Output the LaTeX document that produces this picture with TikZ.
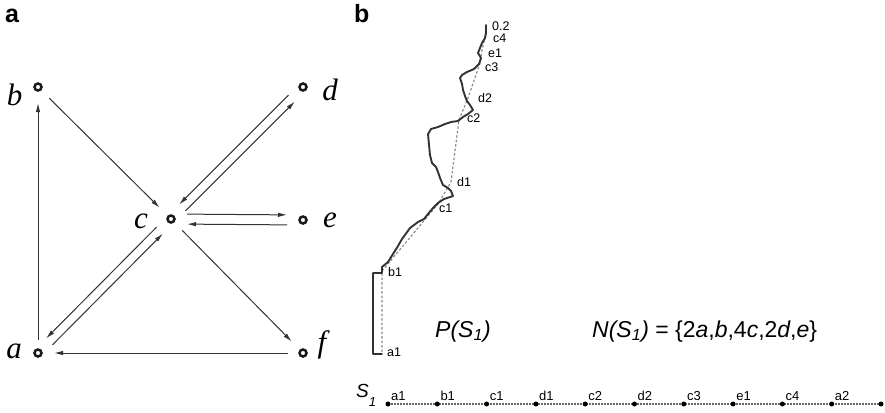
\documentclass[tikz,border=0pt]{standalone}
\usepackage{fontspec}
\setmainfont{Liberation Serif}
\newfontfamily\hv{Liberation Sans}
\usetikzlibrary{arrows.meta,backgrounds}
\begin{document}
\begin{tikzpicture}[x=1pt,y=-1pt,
  vtx/.style={circle,draw=black!90,line width=2.5pt,minimum size=7pt,inner sep=0pt},
  arr/.style={draw=black!80,line width=1pt,-{Latex[length=9pt,width=4.5pt]},shorten <=16pt,shorten >=16pt},
  vlbl/.style={font=\fontsize{31}{31}\selectfont\itshape,anchor=base,inner sep=0pt},
  panel/.style={font=\hv\bfseries\fontsize{25}{25}\selectfont,anchor=base west,inner sep=0pt},
  slbl/.style={font=\hv\fontsize{12.5}{12.5}\selectfont,anchor=west,inner sep=0pt},
  qlbl/.style={font=\hv\fontsize{13}{13}\selectfont,anchor=base west,inner sep=0pt},
  big/.style={font=\hv\fontsize{23}{23}\selectfont,anchor=base west,inner sep=0pt},
  curve/.style={draw=black!80,line width=1.9pt,line join=round,line cap=round},
  chord/.style={draw=black!45,line width=1.2pt,dash pattern=on 2.5pt off 2pt},
  seq/.style={draw=black!60,line width=1.6pt,dash pattern=on 2pt off 1pt},
  dot/.style={circle,fill=black,inner sep=0pt,minimum size=5pt}]
\useasboundingbox (0,0) rectangle (885,412);

% ---------- panel a ----------
\node[panel] (pa) at (5,22.5) {a};
\node[vtx] (a) at (38,353) {};
\node[vtx] (b) at (38,87) {};
\node[vtx] (c) at (171,219) {};
\node[vtx] (d) at (303,87) {};
\node[vtx] (e) at (303,220) {};
\node[vtx] (f) at (303,353) {};
\node[vlbl] (la) at (14,358) {a};
\node[vlbl] (lb) at (14.5,105) {b};
\node[vlbl] (lc) at (141,228) {c};
\node[vlbl] (ld) at (330,100) {d};
\node[vlbl] (le) at (330,227) {e};
\node[vlbl] (lf) at (322,352) {f};

\draw[arr,shorten <=13pt] (a.center) -- (b.center);
\draw[arr] (b.center) -- (c.center);
\draw[arr] (c.center) -- (f.center);
\draw[arr,shorten <=15pt] (f.center) -- (a.center);
\draw[arr] ([shift={(-3.2,-3.2)}]d.center) -- ([shift={(-3.2,-3.2)}]c.center);
\draw[arr] ([shift={(3.2,3.2)}]c.center) -- ([shift={(3.2,3.2)}]d.center);
\draw[arr] ([shift={(0,-5)}]c.center) -- ([shift={(0,-5)}]e.center);
\draw[arr] ([shift={(0,5)}]e.center) -- ([shift={(0,5)}]c.center);
\draw[arr] ([shift={(-3.2,-3.2)}]c.center) -- ([shift={(-3.2,-3.2)}]a.center);
\draw[arr] ([shift={(3.2,3.2)}]a.center) -- ([shift={(3.2,3.2)}]c.center);

% ---------- panel b ----------
\node[panel] (pb) at (354,22.5) {b};

\coordinate (qa1) at (382,352);
\coordinate (qb1) at (382,271);
\coordinate (qc1) at (438,204);
\coordinate (qd1) at (451,182);
\coordinate (qc2) at (459,120);
\coordinate (qd2) at (468,98);
\coordinate (qc3) at (480,63);
\coordinate (qe1) at (482,50);
\coordinate (qc4) at (485,38);
\coordinate (qtop) at (486,27);
\draw[chord] (qa1) -- (qb1) -- (qc1) -- (qd1) -- (qc2) -- (qd2) -- (qc3) -- (qe1) -- (qc4) -- (qtop);

\draw[curve] plot coordinates {(382,354) (373,354) (373,273) (382,273) (382,267) (388,262) (393,254) (398,246) (402,239) (410,228) (418,222) (424,219) (428,214) (433,208) (438,203) (444,199) (450,197) (453,196) (451,191) (448,188) (443,185) (440,178) (438,172) (436,167) (432,163) (430,155) (429,145) (428,134) (431,129) (438,127) (445,124) (451,122) (458,121) (463,117) (468,114) (473,110) (470,105) (467,101) (465,96) (463,90) (462,84) (460,78) (462,75) (467,72) (474,69) (479,64) (481,58) (478,53) (480,48) (482,43) (485,38) (486,33) (486,25)};

\node[slbl] (t02) at (492,26) {0.2};
\node[slbl] (tc4) at (493,38.5) {c4};
\node[slbl] (te1) at (488,53) {e1};
\node[slbl] (tc3) at (485,67) {c3};
\node[slbl] (td2) at (478,98) {d2};
\node[slbl] (tc2) at (467,118) {c2};
\node[slbl] (td1) at (457,182) {d1};
\node[slbl] (tc1) at (439,208) {c1};
\node[slbl] (tb1) at (388,272) {b1};
\node[slbl] (ta1) at (387,352) {a1};

\node[big] (ps) at (435,337) {\itshape P(S\textsubscript{1})};
\node[big] (ns) at (592,337) {\itshape N(S\textsubscript{1})\upshape{} = \{2\textit{a},\textit{b},4\textit{c},2\textit{d},\textit{e}\}};

% sequence
\node[font=\hv\itshape\fontsize{19}{19}\selectfont,anchor=base west,inner sep=0pt] (s1) at (356,397) {S\raisebox{-9pt}{\fontsize{13}{13}\selectfont 1}};
\foreach \i/\t in {0/a1,1/b1,2/c1,3/d1,4/c2,5/d2,6/c3,7/e1,8/c4,9/a2} {
  \node[dot] (s\i) at (388+49.3*\i,404) {};
  \node[qlbl] (u\i) at ([shift={(3,-4)}]s\i.center) {\t};
}
\node[dot] (s10) at (881,404) {};
\begin{scope}[on background layer]
\draw[seq] (s0.center) -- (s10.center);
\end{scope}
\end{tikzpicture}
\end{document}
